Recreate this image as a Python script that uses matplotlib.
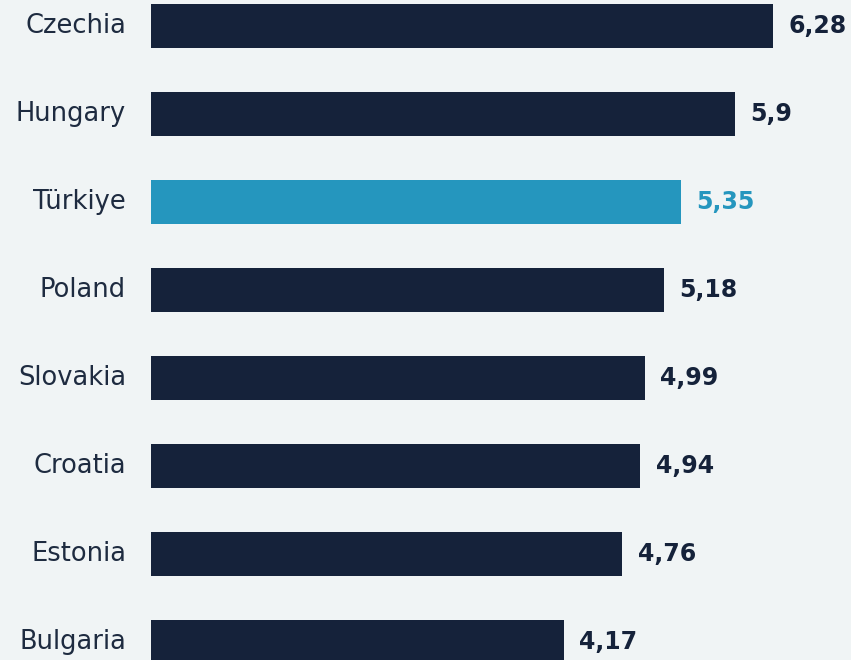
import matplotlib
matplotlib.use("Agg")
import matplotlib.pyplot as plt

countries = ["Czechia", "Hungary", "Türkiye", "Poland", "Slovakia", "Croatia", "Estonia", "Bulgaria"]
values = [6.28, 5.9, 5.35, 5.18, 4.99, 4.94, 4.76, 4.17]
highlight = "Türkiye"

BG = "#f0f4f5"
NAVY = "#15223a"
BLUE = "#2596be"

plt.rcParams['font.family'] = ['DejaVu Sans']

fig = plt.figure(figsize=(8.51, 6.6), dpi=100, facecolor=BG)
ax = fig.add_axes([151/851, 0, 700/851, 1])
ax.set_facecolor(BG)

colors = [BLUE if c == highlight else NAVY for c in countries]
ypos = list(range(len(countries)))
bars = ax.barh(ypos, values, height=0.5, color=colors)

labels = [f"{v:g}".replace(".", ",") for v in values]
texts = ax.bar_label(bars, labels=labels, padding=11, fontsize=17,
                     fontweight="bold", color=NAVY)
for t, c in zip(texts, colors):
    t.set_color(c)

ax.set_yticks(ypos)
ax.set_yticklabels(countries, fontsize=18.5, color="#1e2b40")
for lbl in ax.get_yticklabels():
    lbl.set_verticalalignment("center")
ax.tick_params(axis="y", length=0, pad=18)
ax.set_xticks([])
ax.set_xlim(0, 700/99.04)
ax.set_ylim(7.21, -0.29)
for s in ax.spines.values():
    s.set_visible(False)

fig.savefig("out.png", dpi=100, facecolor=BG)
